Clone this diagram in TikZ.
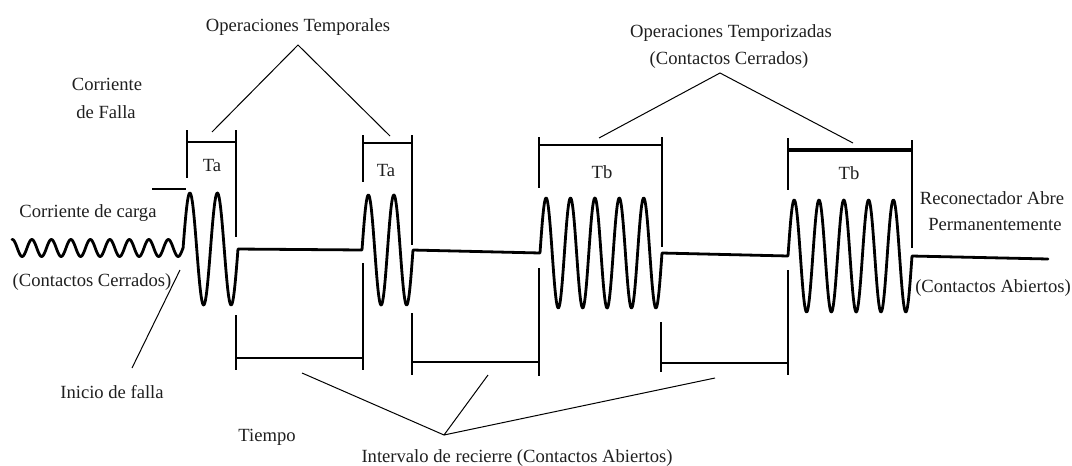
\documentclass[tikz,border=0pt]{standalone}
\usepackage{fontspec}
\setmainfont{Liberation Serif}
\begin{document}
\begin{tikzpicture}[x=0.5pt,y=-0.5pt,
  wave/.style={line width=1.4pt, line join=round, line cap=round},
  brk/.style={line width=1.2pt},
  lead/.style={line width=0.5pt},
  lbl/.style={font=\fontsize{9.3}{11}\selectfont, inner sep=0pt, text=black!88}]
\useasboundingbox (0,0) rectangle (1072,466);

% signal
\draw[wave] plot[domain=12:183,samples=220] (\x,{248-8.5*sin((360/19.5)*(\x-183))})
  -- plot[domain=183:238,samples=120] (\x,{249-56*sin((360/27.5)*(\x-183))})
  -- (362,250)
  -- plot[domain=362:413,samples=120] (\x,{250-55*sin((360/25.5)*(\x-362))})
  -- (540,253)
  -- plot[domain=540:662,samples=260] (\x,{253-55*sin((360/24.4)*(\x-540))})
  -- (788,256)
  -- plot[domain=788:912,samples=260] (\x,{256-56*sin((360/24.8)*(\x-788))})
  -- (1048,259);

% fault current level mark
\draw[brk] (152,189) -- (186,189);

% upper brackets
\draw[brk] (187,130) -- (187,178);
\draw[brk] (236,130) -- (236,237);
\draw[brk] (187,142) -- (236,142);
\draw[brk] (363,135) -- (363,182);
\draw[brk] (412,135) -- (412,245);
\draw[brk] (363,143) -- (412,143);
\draw[brk] (539,137) -- (539,188);
\draw[brk] (662,137) -- (662,247);
\draw[brk] (539,145) -- (662,145);
\draw[brk] (788,138) -- (788,190);
\draw[brk] (912,140) -- (912,248);
\draw[line width=1.6pt] (788,150) -- (912,150);

% lower brackets
\draw[brk] (236,315) -- (236,370);
\draw[brk] (363,263) -- (363,370);
\draw[brk] (236,358) -- (363,358);
\draw[brk] (412,313) -- (412,375);
\draw[brk] (539,268) -- (539,376);
\draw[brk] (412,362) -- (539,362);
\draw[brk] (661,322) -- (661,372);
\draw[brk] (788,270) -- (788,375);
\draw[brk] (661,363) -- (788,363);

% labels
\node[lbl] (optem) at (298,27) {Operaciones Temporales};
\node[lbl] (corr) at (107,84) {Corriente};
\node[lbl] (falla) at (106,112) {de Falla};
\node[lbl] (ta1) at (212,166) {Ta};
\node[lbl] (ta2) at (386,170) {Ta};
\node[lbl] (tb1) at (602,172) {Tb};
\node[lbl] (tb2) at (849,173) {Tb};
\node[lbl] (optz) at (731,33) {Operaciones Temporizadas};
\node[lbl] (ccer2) at (729,60) {(Contactos Cerrados)};
\node[lbl] (carga) at (88,213) {Corriente de carga};
\node[lbl] (ccer1) at (92,282) {(Contactos Cerrados)};
\node[lbl] (inicio) at (112,392) {Inicio de falla};
\node[lbl] (tiempo) at (267,437) {Tiempo};
\node[lbl] (interv) at (517,458) {Intervalo de recierre (Contactos Abiertos)};
\node[lbl] (recon) at (992,198) {Reconectador Abre};
\node[lbl] (perm) at (995,225) {Permanentemente};
\node[lbl] (cabi) at (993,288) {(Contactos Abiertos)};

% leader lines
\coordinate (apexA) at (298,45);
\coordinate (endA1) at (212,132);
\coordinate (endA2) at (390,136);
\draw[lead] (endA1) -- (apexA) -- (endA2);
\coordinate (apexB) at (720,73);
\coordinate (endB1) at (599,138);
\coordinate (endB2) at (853,143);
\draw[lead] (endB1) -- (apexB) -- (endB2);
\coordinate (inA) at (132,368);
\coordinate (inB) at (180,270);
\draw[lead] (inA) -- (inB);
\coordinate (apexC) at (444,435);
\coordinate (endC1) at (302,373);
\coordinate (endC2) at (488,375);
\coordinate (endC3) at (715,378);
\draw[lead] (endC1) -- (apexC) -- (endC3);
\draw[lead] (apexC) -- (endC2);
\end{tikzpicture}
\end{document}
